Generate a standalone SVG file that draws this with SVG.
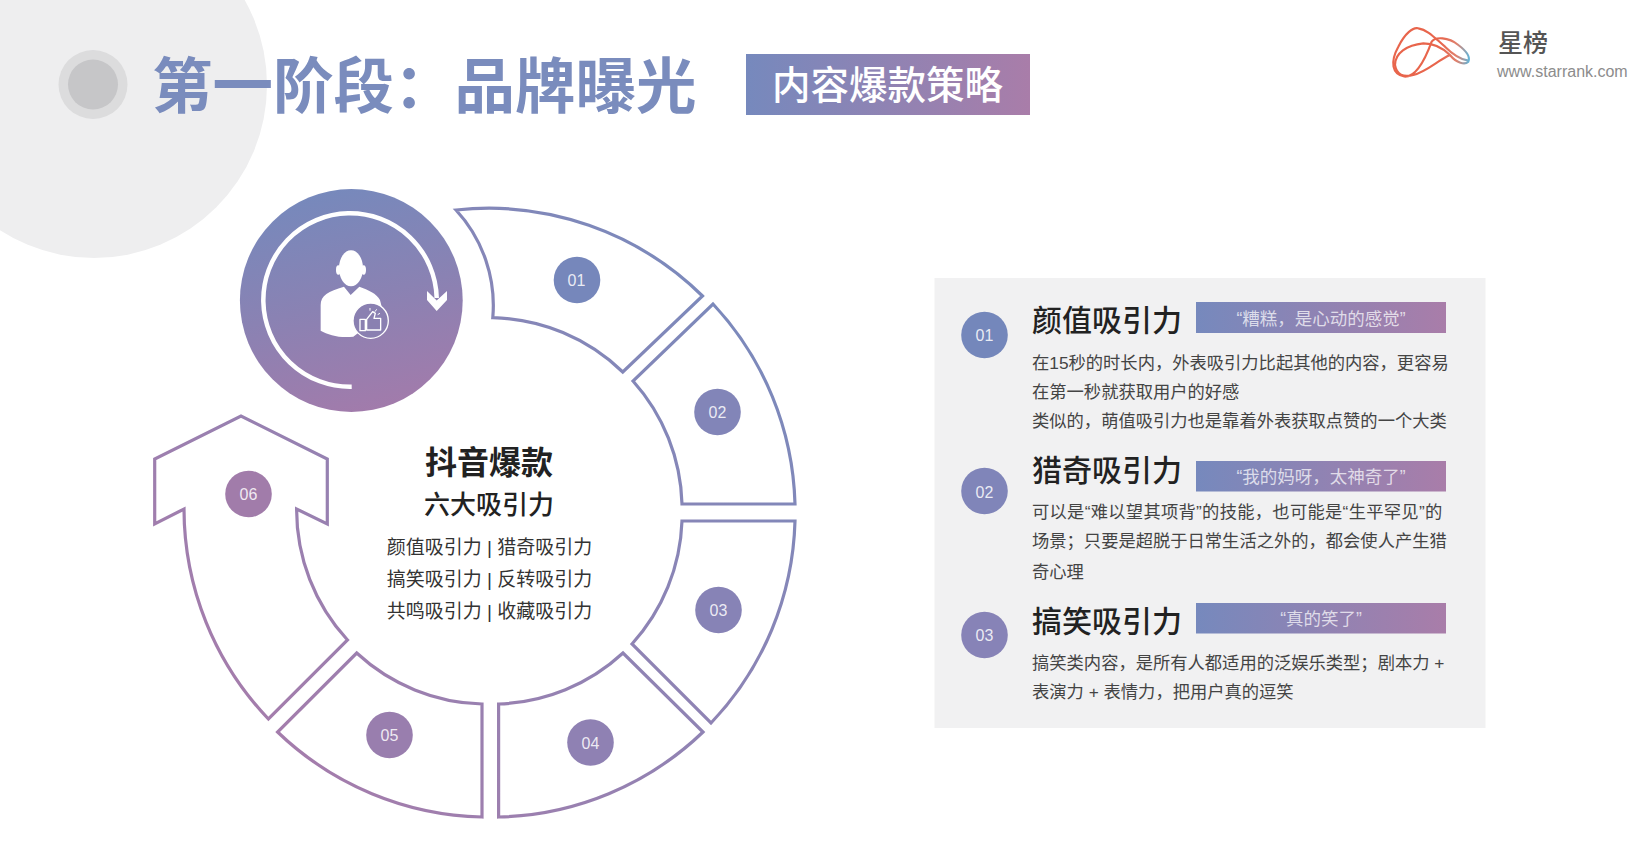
<svg xmlns="http://www.w3.org/2000/svg" width="1644" height="868" viewBox="0 0 1644 868">
<defs>
<linearGradient id="band" x1="0" y1="0" x2="1" y2="0"><stop offset="0" stop-color="#7689bd"/><stop offset="1" stop-color="#a97da9"/></linearGradient>
<linearGradient id="disc" x1="0.35" y1="0" x2="0.6" y2="1"><stop offset="0" stop-color="#7689bc"/><stop offset="0.5" stop-color="#8a82b3"/><stop offset="1" stop-color="#a27bab"/></linearGradient>
<linearGradient id="ring" gradientUnits="userSpaceOnUse" x1="720" y1="260" x2="220" y2="720"><stop offset="0" stop-color="#7a8abc"/><stop offset="1" stop-color="#a67cab"/></linearGradient>
<linearGradient id="logo" gradientUnits="userSpaceOnUse" x1="240" y1="0" x2="330" y2="0"><stop offset="0" stop-color="#e8654c"/><stop offset="0.55" stop-color="#e0806c"/><stop offset="1" stop-color="#5bb7de"/></linearGradient>
</defs>
<style>
text{font-family:"Liberation Sans","Noto Sans CJK SC",sans-serif}
.seg{fill:#fff;stroke:url(#ring);stroke-width:3.2;stroke-linejoin:miter;stroke-miterlimit:3}
.num{font-size:16px;fill:#fff;fill-opacity:.85;text-anchor:middle}
.head{font-size:30px;font-weight:500;fill:#222}
.body{font-size:17.3px;fill:#444}
.tag{font-size:17.5px;fill:#fff;fill-opacity:.72;text-anchor:middle}
.list{font-size:19px;fill:#333;text-anchor:middle}
</style>
<g id="background"><circle cx="94" cy="85" r="173" fill="#eeeeef"/><circle cx="93" cy="84.500" r="34.500" fill="#dcdcdd"/><circle cx="93" cy="84.500" r="25" fill="#c6c6c8"/></g>
<g id="title"><text x="152" y="108" font-size="60.500" font-weight="700" fill="#7a8cbd">第一阶段：品牌曝光</text></g>
<g id="badge"><rect x="746" y="54" width="284" height="61" fill="url(#band)"/><text x="887.500" y="99" font-size="38.500" font-weight="500" fill="#fff" text-anchor="middle">内容爆款策略</text></g>
<g id="logo-mark" transform="translate(1360 0) scale(.3333)" fill="none" stroke="url(#logo)" stroke-width="6.500">
<path d="M135 230C95 225 90 185 115 140C135 100 160 80 175 85C205 90 225 115 255 140C280 165 300 178 325 182"/>
<path d="M135 230C170 230 195 180 215 125C225 110 265 110 295 135C315 150 332 170 325 185C315 195 290 190 270 165C245 140 220 130 190 130C140 135 105 160 105 195C110 225 130 232 160 225C200 215 235 180 270 165"/>
</g>
<g id="logo-text"><text x="1498" y="52" font-size="25" font-weight="500" fill="#555">星榜</text><text x="1497" y="77" font-size="16" fill="#8c8c8c">www.starrank.com</text></g>
<g id="seg-01"><path class="seg" d="M456 210A305 305 0 0 1 702.500 296L622.800 372A193 193 0 0 0 492.800 317.700A141 141 0 0 0 456 210Z"/><circle cx="577" cy="280" r="23.300" fill="#7687bb"/><text class="num" x="576.500" y="286">01</text></g>
<g id="seg-02"><path class="seg" d="M713 304A305 305 0 0 1 795 504L682 504A192 192 0 0 0 633 381Z"/><circle cx="717.500" cy="412" r="23.300" fill="#8285b8"/><text class="num" x="717.500" y="418">02</text></g>
<g id="seg-03"><path class="seg" d="M682 521L795 521A305 305 0 0 1 711 723L632 644A193 193 0 0 0 682 521Z"/><circle cx="718.500" cy="610" r="23.300" fill="#8783b6"/><text class="num" x="718.500" y="616">03</text></g>
<g id="seg-04"><path class="seg" d="M703 732A305 305 0 0 1 498.600 817L498.600 704A192 192 0 0 0 623 653Z"/><circle cx="590.500" cy="742.500" r="23.300" fill="#8f81b3"/><text class="num" x="590.500" y="748.500">04</text></g>
<g id="seg-05"><path class="seg" d="M482 817A305 305 0 0 1 277.600 732L356.700 653A192 192 0 0 0 482 704Z"/><circle cx="389.500" cy="735" r="23.300" fill="#997eae"/><text class="num" x="389.500" y="741">05</text></g>
<g id="seg-06"><path class="seg" d="M268.400 719A305 305 0 0 1 184 509L154.700 524L154.700 459L241 416L327.300 459L327.300 524L296.600 509A193 193 0 0 0 347.500 640Z"/><circle cx="248.500" cy="494" r="23.300" fill="#a17caa"/><text class="num" x="248.500" y="500">06</text></g>
<g id="hub"><circle cx="351.300" cy="300.500" r="111.400" fill="url(#disc)"/>
<path d="M351.700 386.700A86.700 86.700 0 1 1 436.700 298" fill="none" stroke="#fff" stroke-width="4.500"/>
<polygon points="427,291 436.700,300.500 447,291 447,300 436.700,311 427,300" fill="#fff"/>
<g transform="translate(220 180) scale(.3333)">
<ellipse cx="393" cy="265" rx="36" ry="54" fill="#fff"/><ellipse cx="355" cy="270" rx="7" ry="14" fill="#fff"/><ellipse cx="431" cy="270" rx="7" ry="14" fill="#fff"/>
<path d="M302 452L302 375C302 345 325 335 372 320L392 345L418 320C445 330 470 340 480 360L490 400L400 470C360 475 325 465 302 452Z" fill="#fff"/>
<circle cx="452" cy="422" r="53" fill="#8a80b1" stroke="#fff" stroke-width="4"/>
<path d="M420 418H436V452H420ZM440 418L458 395L466 400L462 415H482V450H440Z" fill="none" stroke="#fff" stroke-width="4" stroke-linejoin="round"/>
<path d="M450 384V392M470 388L465 395M480 400L473 404" stroke="#fff" stroke-width="3"/>
</g></g>
<g id="center-text">
<text x="489" y="474" font-size="32" font-weight="700" fill="#222" text-anchor="middle">抖音爆款</text>
<text x="489" y="514" font-size="26" font-weight="500" fill="#222" text-anchor="middle">六大吸引力</text>
<text class="list" x="489.500" y="554">颜值吸引力 | 猎奇吸引力</text>
<text class="list" x="489.500" y="586">搞笑吸引力 | 反转吸引力</text>
<text class="list" x="489.500" y="618">共鸣吸引力 | 收藏吸引力</text>
</g>
<g id="panel"><rect x="934.500" y="278" width="551" height="450" fill="#f1f1f2"/></g>
<g id="item-01"><circle cx="984.500" cy="335" r="23.300" fill="#7487bb"/><text class="num" x="984.500" y="341">01</text>
<text class="head" x="1032" y="330.500">颜值吸引力</text><rect x="1196" y="302" width="250" height="31" fill="url(#band)"/><text class="tag" x="1321" y="324.500">“糟糕，是心动的感觉”</text>
<text class="body" x="1032" y="368.500">在15秒的时长内，外表吸引力比起其他的内容，更容易</text>
<text class="body" x="1032" y="398">在第一秒就获取用户的好感</text>
<text class="body" x="1032" y="426.500">类似的，萌值吸引力也是靠着外表获取点赞的一个大类</text></g>
<g id="item-02"><circle cx="984.500" cy="491" r="23.300" fill="#8085b9"/><text class="num" x="984.500" y="498">02</text>
<text class="head" x="1032" y="481">猎奇吸引力</text><rect x="1196" y="461" width="250" height="30.500" fill="url(#band)"/><text class="tag" x="1321" y="483">“我的妈呀，太神奇了”</text>
<text class="body" x="1032" y="517.500" letter-spacing=".28">可以是“难以望其项背”的技能，也可能是“生平罕见”的</text>
<text class="body" x="1032" y="547">场景；只要是超脱于日常生活之外的，都会使人产生猎</text>
<text class="body" x="1032" y="578">奇心理</text></g>
<g id="item-03"><circle cx="984.500" cy="635" r="23.300" fill="#8783b7"/><text class="num" x="984.500" y="641">03</text>
<text class="head" x="1032" y="632">搞笑吸引力</text><rect x="1196" y="603" width="250" height="30.500" fill="url(#band)"/><text class="tag" x="1321" y="624.500">“真的笑了”</text>
<text class="body" x="1032" y="668.500">搞笑类内容，是所有人都适用的泛娱乐类型；剧本力 +</text>
<text class="body" x="1032" y="697.500">表演力 + 表情力，把用户真的逗笑</text></g>
</svg>
